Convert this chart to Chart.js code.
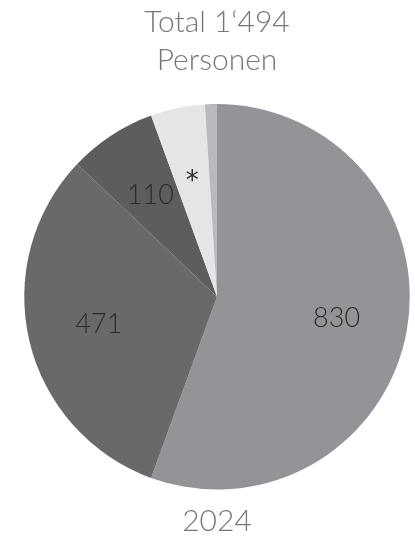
<!DOCTYPE html>
<html>
<head>
<meta charset="utf-8">
<script src="https://cdn.jsdelivr.net/npm/chart.js@4"></script>
<style>
  html, body { margin: 0; padding: 0; background: #fff; }
  #wrap { width: 415px; height: 540px; }
</style>
</head>
<body>
<div id="wrap"><canvas id="chart"></canvas></div>
<script>
// data (total 1'494)
const categories = ['A', 'B', 'C', 'D', 'E'];
const values = [830, 471, 110, 68, 15];
const sliceLabels = ['830', '471', '110', '*', ''];
const colors = ['#939497', '#69696c', '#5d5d5f', '#e4e5e5', '#b9babd'];
const titleLines = ['Total 1\u2018494', 'Personen'];
const yearLabel = '2024';

const fontFamily = "Lato, 'Open Sans', sans-serif";

// draws the value text inside each slice
const sliceLabelPlugin = {
  id: 'sliceLabels',
  afterDatasetsDraw(chart) {
    const ctx = chart.ctx;
    const meta = chart.getDatasetMeta(0);
    ctx.save();
    ctx.fillStyle = '#2b2b2b';
    ctx.textAlign = 'center';
    ctx.textBaseline = 'middle';
    meta.data.forEach((arc, i) => {
      const text = sliceLabels[i];
      if (!text) return;
      // the asterisk is set bigger so it reads like the original
      ctx.font = text === '*' ? "400 26px 'DejaVu Sans', sans-serif" : "300 27px " + fontFamily;
      const mid = (arc.startAngle + arc.endAngle) / 2;
      const r = arc.outerRadius * 0.63;
      const dy = text === '*' ? 4 : 0;
      ctx.fillText(text, arc.x + Math.cos(mid) * r, arc.y + Math.sin(mid) * r + dy);
    });
    ctx.restore();
  }
};

new Chart(document.getElementById('chart'), {
  type: 'pie',
  data: {
    labels: categories,
    datasets: [{
      data: values,
      backgroundColor: colors,
      borderWidth: 0
    }]
  },
  options: {
    responsive: true,
    maintainAspectRatio: false,
    animation: false,
    layout: { padding: { left: 20, right: 1, top: 0, bottom: 0 } },
    plugins: {
      legend: { display: false },
      tooltip: { enabled: false },
      title: {
        display: true,
        text: titleLines,
        color: '#777777',
        font: { family: fontFamily, size: 30, weight: '300', lineHeight: 1.25 },
        padding: { top: 4, bottom: 25 }
      },
      subtitle: {
        display: true,
        position: 'bottom',
        text: yearLabel,
        color: '#777777',
        font: { family: fontFamily, size: 30, weight: '300', lineHeight: 1.25 },
        padding: { top: 13, bottom: 0 }
      }
    }
  },
  plugins: [sliceLabelPlugin]
});
</script>
</body>
</html>
